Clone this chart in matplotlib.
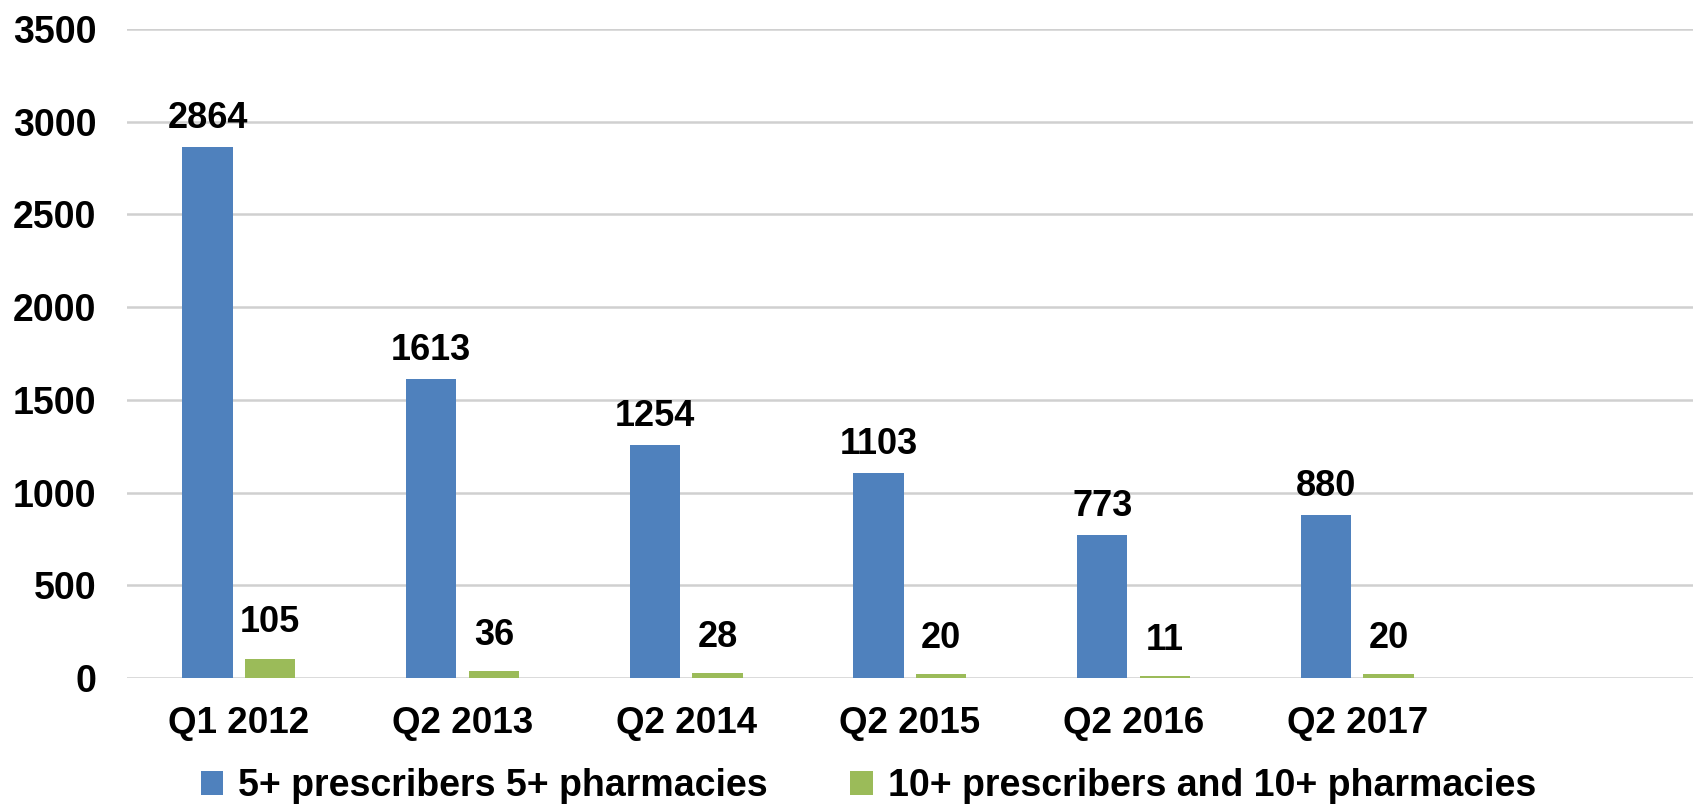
import numpy as np
import matplotlib.pyplot as plt

# dados
categorias = ["Q1 2012", "Q2 2013", "Q2 2014", "Q2 2015", "Q2 2016", "Q2 2017"]
serie_5 = [2864, 1613, 1254, 1103, 773, 880]
serie_10 = [105, 36, 28, 20, 11, 20]
nome_5 = "5+ prescribers 5+ pharmacies"
nome_10 = "10+ prescribers and 10+ pharmacies"

azul = "#4F81BD"
verde = "#9BBB59"

plt.rcParams["font.family"] = ["Liberation Sans", "DejaVu Sans"]
plt.rcParams["font.weight"] = "bold"

fig = plt.figure(figsize=(16.96, 8.06), dpi=100)
ax = fig.add_axes([0.0749, 0.1588, 0.9231, 0.8052])

x = np.arange(len(categorias))
largura = 0.225
desloc = 0.14

b1 = ax.bar(x - desloc, serie_5, largura, color=azul, label=nome_5, zorder=3)
b2 = ax.bar(x + desloc, serie_10, largura, color=verde, label=nome_10, zorder=3)

for barra, v in zip(b1, serie_5):
    ax.annotate(str(v), (barra.get_x() + barra.get_width() / 2, v),
                xytext=(0, 8), textcoords="offset points",
                ha="center", va="bottom", fontsize=26, fontweight="bold")
for barra, v in zip(b2, serie_10):
    ax.annotate(str(v), (barra.get_x() + barra.get_width() / 2, v),
                xytext=(0, 13), textcoords="offset points",
                ha="center", va="bottom", fontsize=26, fontweight="bold")

# uma posição vazia no final, como no original
ax.set_xlim(-0.5, len(categorias) + 0.5)
ax.set_ylim(0, 3500)
ax.set_yticks(np.arange(0, 3501, 500))
ax.set_xticks(x)
ax.set_xticklabels(categorias)
ax.tick_params(axis="both", length=0)
ax.tick_params(axis="x", pad=20, labelsize=26.5)
ax.tick_params(axis="y", pad=22, labelsize=27)

ax.grid(axis="y", color="#D0D0D0", linewidth=1.8, zorder=0)
for lado in ["top", "right", "left", "bottom"]:
    ax.spines[lado].set_visible(False)

fig.legend(handles=[b1, b2], loc="center", bbox_to_anchor=(0.512, 0.025),
           ncol=2, frameon=False, fontsize=27, handlelength=0.6,
           handleheight=0.6, handletextpad=0.4, columnspacing=2.2)

fig.savefig("out.png", dpi=100)
